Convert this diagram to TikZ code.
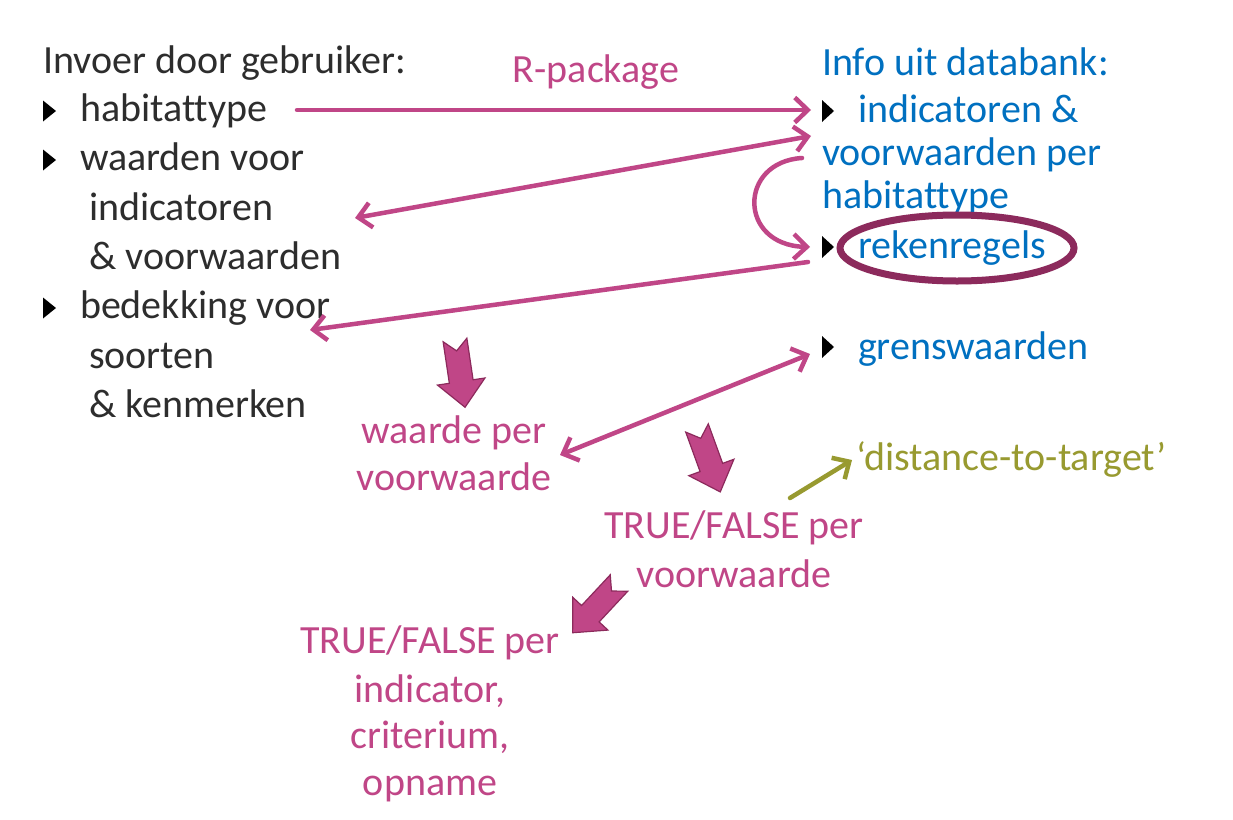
\documentclass[tikz,border=0pt]{standalone}
\usepackage{fontspec}
\setmainfont{Carlito}[Ligatures=NoCommon]
\usetikzlibrary{arrows.meta}
\definecolor{txtgray}{RGB}{45,45,45}
\definecolor{dbblue}{RGB}{0,112,192}
\definecolor{pinkc}{RGB}{192,70,135}
\definecolor{plumc}{RGB}{140,42,92}
\definecolor{olivec}{RGB}{152,154,48}
\begin{document}
\begin{tikzpicture}[x=1pt,y=-1pt,
  every node/.style={inner sep=0pt, outer sep=0pt, font=\fontsize{40}{48}\selectfont},
  lefttxt/.style={anchor=base west, text=txtgray},
  righttxt/.style={anchor=base west, text=dbblue},
  pinktxt/.style={anchor=base, text=pinkc},
  tip/.style={Straight Barb[length=13pt,width=25pt]},
  conn/.style={draw=pinkc, line width=4.5pt, line cap=round, -{Straight Barb[length=13pt,width=25pt]}},
  dconn/.style={conn, {Straight Barb[length=13pt,width=25pt]}-{Straight Barb[length=13pt,width=25pt]}},
  oconn/.style={conn, draw=olivec},
  lbul/.pic={\fill[black] (0,-10.5) -- (13,0) -- (0,10.5) -- cycle;},
  rbul/.pic={\fill[black] (0,-11) -- (12,0) -- (0,11) -- cycle;},
  blockarrow/.pic={\draw[fill=pinkc, draw=plumc, line width=1.2pt, line join=miter]
     (0,-12) -- (42,-12) -- (42,-24) -- (68,0) -- (42,24) -- (42,12) -- (0,12) -- (11,0) -- cycle;}
]
\useasboundingbox[fill=white] (0,0) rectangle (1233,819);

% left column
\node[lefttxt] (L0) at (43,73) {Invoer door gebruiker:};
\pic at (43,111) {lbul};
\node[lefttxt] (L1) at (80,121) {habitattype};
\pic at (43,160) {lbul};
\node[lefttxt] (L2) at (80,170) {waarden voor};
\node[lefttxt] (L3) at (89,220) {indicatoren};
\node[lefttxt] (L4) at (89,269) {\& voorwaarden};
\pic at (43,308) {lbul};
\node[lefttxt] (L5) at (80,318) {bedekking voor};
\node[lefttxt] (L6) at (89,368) {soorten};
\node[lefttxt] (L7) at (89,417) {\& kenmerken};

% right column
\node[righttxt] (R0) at (822,75) {Info uit databank:};
\pic at (822,111) {rbul};
\node[righttxt] (R1) at (858,122) {indicatoren \&};
\node[righttxt] (R2) at (822,165) {voorwaarden per};
\node[righttxt] (R3) at (822,208) {habitattype};
\pic at (822,247) {rbul};
\node[righttxt] (R4) at (858,258) {rekenregels};
\pic at (822,347) {rbul};
\node[righttxt] (R5) at (858,359) {grenswaarden};
\draw[plumc, line width=7pt] (957,248) ellipse [x radius=117pt, y radius=33pt];

% pink texts
\node[pinktxt] (rp) at (596,82) {R-package};
\node[pinktxt] (wv1) at (454,443) {waarde per};
\node[pinktxt] (wv2) at (454,490) {voorwaarde};
\node[pinktxt] (tf1) at (734,538) {TRUE/FALSE per};
\node[pinktxt] (tf2) at (734,587) {voorwaarde};
\node[pinktxt] (ti1) at (430,653) {TRUE/FALSE per};
\node[pinktxt] (ti2) at (430,702) {indicator,};
\node[pinktxt] (ti3) at (430,748) {criterium,};
\node[pinktxt] (ti4) at (430,795) {opname};
\node[anchor=base west, text=olivec] (dt) at (856,470) {‘distance-to-target’};

% connector end points
\coordinate (a1s) at (297,110);
\coordinate (a1e) at (811,110);
\coordinate (a2r) at (811,136);
\coordinate (a2l) at (355,218);
\coordinate (a3s) at (802,158);
\coordinate (a3e) at (810,247);
\coordinate (a4s) at (808,262);
\coordinate (a4e) at (310,330);
\coordinate (a5r) at (810,354);
\coordinate (a5l) at (560,455);
\coordinate (a6s) at (790,498);
\coordinate (a6e) at (852,460);

\draw[conn] (a1s) -- (a1e);
\draw[dconn] (a2r) -- (a2l);
\draw[conn] (a3s) .. controls (738,162) and (738,245) .. (a3e);
\draw[conn] (a4s) -- (a4e);
\draw[dconn] (a5r) -- (a5l);
\draw[oconn] (a6s) -- (a6e);

% block arrows
\pic[rotate=-81.5] at (455,340) {blockarrow};
\pic[rotate=-70] at (697,428) {blockarrow};
\pic[rotate=-133] at (619,583) {blockarrow};
\end{tikzpicture}
\end{document}
